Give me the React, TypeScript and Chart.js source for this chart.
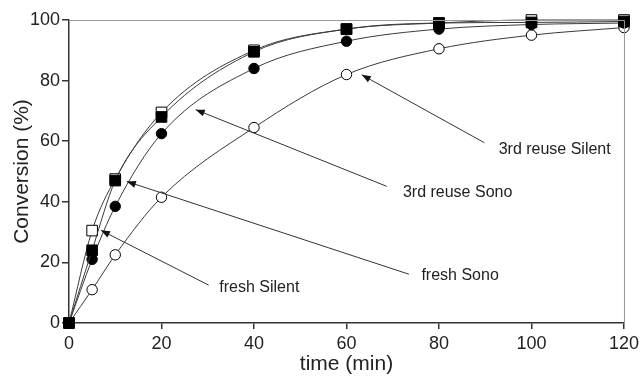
import React, { useEffect, useRef } from "react";
import { Chart, registerables } from "chart.js";

Chart.register(...registerables);

// ---- data ----
const timeMin = [0, 5, 10, 20, 40, 60, 80, 100, 120];
const freshSilent = [0, 30.5, 47.5, 69.5, 90, 97, 99, 100, 100];
const freshSono = [0, 24, 47, 68, 89.5, 97, 99, 99.2, 99.5];
const reuseSono = [0, 21, 38.5, 62.5, 84, 93, 97, 98.5, 99];
const reuseSilent = [0, 11, 22.5, 41.5, 64.5, 82, 90.5, 95, 97.5];

const xTicks = [0, 20, 40, 60, 80, 100, 120];
const yTicks = [0, 20, 40, 60, 80, 100];

const xTitle = "time (min)";
const yTitle = "Conversion (%)";

// annotation callouts (data coordinates)
const annotationLabels = ["fresh Silent", "fresh Sono", "3rd reuse Sono", "3rd reuse Silent"];
const annotationTextAt = [
  [32.5, 11.8],
  [76.2, 15.8],
  [72.2, 43.1],
  [92.9, 57.2],
];
const annotationArrowFrom = [
  [30.2, 12.5],
  [73.5, 16.1],
  [68.7, 45.1],
  [89.8, 59.5],
];
const annotationArrowTo = [
  [6.9, 30.6],
  [12.5, 46.7],
  [27.4, 70.4],
  [63.3, 81.9],
];

const FONT = '"Liberation Sans", Arial, Helvetica, sans-serif';

const toXY = (ys: number[]) => ys.map((y, i) => ({ x: timeMin[i], y }));

const calloutPlugin = {
  id: "callouts",
  afterDatasetsDraw(chart: any) {
    const { ctx, scales, chartArea } = chart;
    const xs = scales.x;
    const ys = scales.y;
    ctx.save();
    // top and right frame lines
    ctx.strokeStyle = "#9a9a9a";
    ctx.lineWidth = 1;
    ctx.beginPath();
    ctx.moveTo(chartArea.left, chartArea.top + 0.5);
    ctx.lineTo(chartArea.right + 0.5, chartArea.top + 0.5);
    ctx.lineTo(chartArea.right + 0.5, chartArea.bottom);
    ctx.stroke();

    annotationLabels.forEach((label, i) => {
      const x0 = xs.getPixelForValue(annotationArrowFrom[i][0]);
      const y0 = ys.getPixelForValue(annotationArrowFrom[i][1]);
      const x1 = xs.getPixelForValue(annotationArrowTo[i][0]);
      const y1 = ys.getPixelForValue(annotationArrowTo[i][1]);
      ctx.strokeStyle = "#333";
      ctx.lineWidth = 1;
      ctx.beginPath();
      ctx.moveTo(x0, y0);
      ctx.lineTo(x1, y1);
      ctx.stroke();
      const ang = Math.atan2(y1 - y0, x1 - x0);
      const len = 9;
      const half = 3.5;
      ctx.fillStyle = "#111";
      ctx.beginPath();
      ctx.moveTo(x1, y1);
      ctx.lineTo(
        x1 - len * Math.cos(ang) + half * Math.sin(ang),
        y1 - len * Math.sin(ang) - half * Math.cos(ang)
      );
      ctx.lineTo(
        x1 - len * Math.cos(ang) - half * Math.sin(ang),
        y1 - len * Math.sin(ang) + half * Math.cos(ang)
      );
      ctx.closePath();
      ctx.fill();

      const tx = xs.getPixelForValue(annotationTextAt[i][0]);
      const ty = ys.getPixelForValue(annotationTextAt[i][1]);
      ctx.fillStyle = "#222";
      ctx.font = `16px ${FONT}`;
      ctx.textAlign = "left";
      ctx.textBaseline = "middle";
      ctx.fillText(label, tx, ty);
    });
    ctx.restore();
  },
};

export default function App() {
  const ref = useRef<HTMLCanvasElement | null>(null);

  useEffect(() => {
    if (!ref.current) return;
    const common = {
      borderColor: "#3a3a3a",
      borderWidth: 1,
      pointBorderColor: "#000",
      pointBorderWidth: 1,
      cubicInterpolationMode: "monotone" as const,
      fill: false,
      clip: false as const,
    };
    const chart = new Chart(ref.current, {
      type: "line",
      data: {
        datasets: [
          {
            ...common,
            label: "3rd reuse Silent",
            order: 4,
            data: toXY(reuseSilent),
            pointStyle: "circle",
            pointRadius: 5.2,
            pointBackgroundColor: "#fff",
          },
          {
            ...common,
            label: "fresh Silent",
            order: 3,
            data: toXY(freshSilent),
            pointStyle: "rect",
            pointRadius: 7.5,
            pointBackgroundColor: "#fff",
          },
          {
            ...common,
            label: "3rd reuse Sono",
            order: 2,
            data: toXY(reuseSono),
            pointStyle: "circle",
            pointRadius: 5.2,
            pointBackgroundColor: "#000",
          },
          {
            ...common,
            label: "fresh Sono",
            order: 1,
            data: toXY(freshSono),
            pointStyle: "rect",
            pointRadius: 7.5,
            pointBackgroundColor: "#000",
          },
        ],
      },
      options: {
        responsive: false,
        animation: false,
        events: [],
        layout: { padding: { top: 20, right: 18, left: 0, bottom: 0 } },
        plugins: {
          legend: { display: false },
          tooltip: { enabled: false },
        },
        scales: {
          x: {
            type: "linear",
            min: 0,
            max: 120,
            afterBuildTicks: (s: any) => {
              s.ticks = xTicks.map((v) => ({ value: v }));
            },
            afterFit: (s: any) => {
              s.height = 54;
            },
            grid: {
              drawOnChartArea: false,
              drawTicks: true,
              tickLength: 6,
              color: "#333",
              lineWidth: 1.5,
            },
            border: { color: "#333", width: 1.5 },
            ticks: {
              color: "#222",
              padding: 4,
              maxRotation: 0,
              font: { family: FONT, size: 18 },
            },
            title: {
              display: true,
              text: xTitle,
              color: "#222",
              padding: { top: 0, bottom: 0 },
              font: { family: FONT, size: 21 },
            },
          },
          y: {
            type: "linear",
            min: 0,
            max: 100,
            afterBuildTicks: (s: any) => {
              s.ticks = yTicks.map((v) => ({ value: v }));
            },
            afterFit: (s: any) => {
              s.width = 69;
            },
            grid: {
              drawOnChartArea: false,
              drawTicks: true,
              tickLength: 7,
              color: "#333",
              lineWidth: 1.5,
            },
            border: { color: "#333", width: 1.5 },
            ticks: {
              color: "#222",
              padding: 2,
              font: { family: FONT, size: 18 },
            },
            title: {
              display: true,
              text: yTitle,
              color: "#222",
              padding: { top: 10, bottom: 0 },
              font: { family: FONT, size: 21 },
            },
          },
        },
      },
      plugins: [calloutPlugin],
    });
    return () => chart.destroy();
  }, []);

  return (
    <div style={{ position: "fixed", left: 0, top: 0, width: 643, height: 377, background: "#fff" }}>
      <canvas ref={ref} width={643} height={377} style={{ display: "block" }} />
    </div>
  );
}
